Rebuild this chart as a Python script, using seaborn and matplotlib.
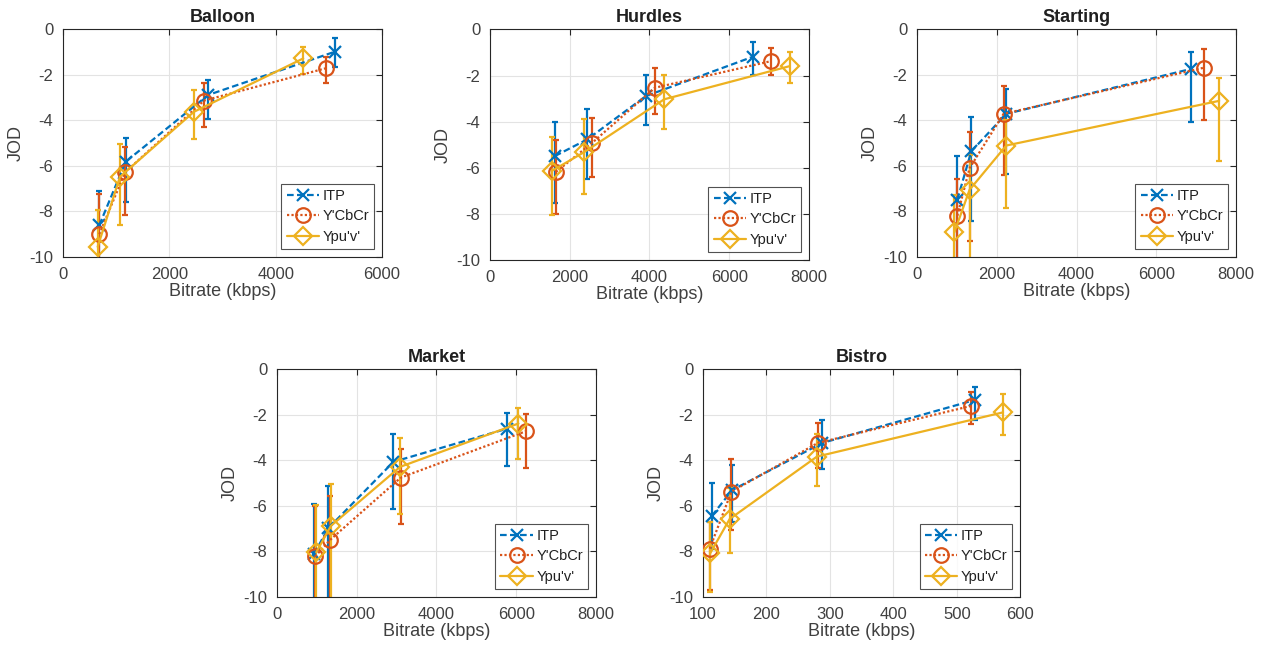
import numpy as np
import pandas as pd
import seaborn as sns
import matplotlib
matplotlib.use("Agg")
import matplotlib.pyplot as plt

# Methods and scenes
methods = ["ITP", "Y'CbCr", "Ypu'v'"]
scenes = ["Balloon", "Hurdles", "Starting", "Market", "Bistro"]

# Bitrate (kbps) per scene, one list per method (ITP, Y'CbCr, Ypu'v')
balloon_rate = [[683, 1178, 2732, 5119], [683, 1165, 2650, 4944], [652, 1071, 2462, 4517]]
hurdles_rate = [[1629, 2439, 3910, 6600], [1654, 2548, 4135, 7060], [1546, 2364, 4369, 7519]]
starting_rate = [[1010, 1360, 2237, 6870], [1010, 1318, 2171, 7207], [935, 1318, 2237, 7576]]
market_rate = [[930, 1290, 2923, 5780], [960, 1336, 3107, 6240], [985, 1353, 3090, 6055]]
bistro_rate = [[114, 146, 288, 528], [110.6, 144.7, 281, 522], [111.6, 142, 279.6, 572.7]]

# JOD values
balloon_jod = [[-8.6, -5.82, -2.89, -0.99], [-9.0, -6.29, -3.14, -1.72], [-9.55, -6.48, -3.63, -1.29]]
hurdles_jod = [[-5.49, -4.77, -2.89, -1.18], [-6.18, -4.94, -2.53, -1.37], [-6.14, -5.32, -3.03, -1.59]]
starting_jod = [[-7.49, -5.37, -3.72, -1.75], [-8.19, -6.1, -3.72, -1.69], [-8.92, -7.05, -5.11, -3.15]]
market_jod = [[-8.1, -6.98, -4.07, -2.61], [-8.22, -7.49, -4.76, -2.73], [-8.04, -6.88, -4.29, -2.39]]
bistro_jod = [[-6.44, -5.31, -3.24, -1.36], [-7.88, -5.38, -3.24, -1.62], [-8.07, -6.58, -3.84, -1.9]]

# Upper ends of the error bars
balloon_top = [[-7.09, -4.77, -2.24, -0.41], [-7.25, -5.16, -2.38, -1.21], [-7.94, -5.04, -2.68, -0.77]]
hurdles_top = [[-4.0, -3.47, -1.99, -0.55], [-4.81, -3.83, -1.66, -0.79], [-4.67, -3.87, -1.98, -0.97]]
starting_top = [[-5.56, -3.87, -2.64, -1.02], [-6.57, -4.5, -2.5, -0.88], [-7.27, -5.52, -3.99, -2.16]]
market_top = [[-5.91, -5.15, -2.86, -1.93], [-5.99, -5.56, -3.52, -1.99], [-5.97, -5.04, -3.03, -1.69]]
bistro_top = [[-4.98, -4.22, -2.25, -0.77], [-6.7, -3.96, -2.36, -1.02], [-6.69, -5.23, -2.85, -1.1]]

# Lower ends of the error bars
balloon_bot = [[-10.2, -7.57, -3.95, -1.65], [-10.7, -8.16, -4.28, -2.35], [-11.2, -8.6, -4.84, -1.97]]
hurdles_bot = [[-7.51, -6.47, -4.16, -1.99], [-7.99, -6.39, -3.66, -1.99], [-8.06, -7.15, -4.31, -2.34]]
starting_bot = [[-10.5, -8.44, -6.35, -4.06], [-10.8, -9.31, -6.39, -3.99], [-10.6, -10.5, -7.85, -5.81]]
market_bot = [[-10.5, -10.5, -6.15, -4.25], [-10.5, -10.5, -6.8, -4.32], [-10.5, -10.5, -6.35, -3.96]]
bistro_bot = [[-7.9, -6.69, -4.39, -2.25], [-9.68, -7.08, -4.36, -2.39], [-9.78, -8.07, -5.11, -2.89]]

rates = [balloon_rate, hurdles_rate, starting_rate, market_rate, bistro_rate]
jods = [balloon_jod, hurdles_jod, starting_jod, market_jod, bistro_jod]
tops = [balloon_top, hurdles_top, starting_top, market_top, bistro_top]
bots = [balloon_bot, hurdles_bot, starting_bot, market_bot, bistro_bot]

x_limits = [(0, 6000), (0, 8000), (0, 8000), (0, 8000), (100, 600)]
x_steps = [2000, 2000, 2000, 2000, 100]

colors = {"ITP": "#0072BD", "Y'CbCr": "#D95319", "Ypu'v'": "#EDB120"}
markers = {"ITP": "x", "Y'CbCr": "o", "Ypu'v'": "D"}
dashes = {"ITP": (3, 1.5), "Y'CbCr": (1, 1), "Ypu'v'": ""}
marker_sizes = {"ITP": 9, "Y'CbCr": 10.5, "Ypu'v'": 9.5}

# Axes positions in figure fractions
positions = [
    [0.0497, 0.6088, 0.2516, 0.347],
    [0.3864, 0.6042, 0.2516, 0.351],
    [0.7232, 0.6088, 0.2516, 0.347],
    [0.2184, 0.0913, 0.2516, 0.347],
    [0.5544, 0.0913, 0.2503, 0.347],
]

sns.set_style("white")
plt.rcParams["font.family"] = ["Liberation Sans", "DejaVu Sans"]
plt.rcParams["axes.unicode_minus"] = False

fig = plt.figure(figsize=(12.68, 6.57), dpi=100)
text_color = "#404040"

for i, scene in enumerate(scenes):
    ax = fig.add_axes(positions[i])
    rows = []
    for m, method in enumerate(methods):
        for r, j, t, b in zip(rates[i][m], jods[i][m], tops[i][m], bots[i][m]):
            rows.append({"Method": method, "Bitrate": r, "JOD": j, "top": t, "bot": b})
    df = pd.DataFrame(rows)

    for method in methods:
        d = df[df["Method"] == method]
        ax.errorbar(d["Bitrate"], d["JOD"],
                    yerr=[d["JOD"] - d["bot"], d["top"] - d["JOD"]],
                    fmt="none", ecolor=colors[method], elinewidth=1.6,
                    capsize=2.5, capthick=1.6, zorder=2)
        sns.lineplot(data=d, x="Bitrate", y="JOD", ax=ax, color=colors[method],
                     marker=markers[method], markersize=marker_sizes[method],
                     markerfacecolor="none", markeredgecolor=colors[method],
                     markeredgewidth=1.6, linewidth=1.6, dashes=dashes[method],
                     label=method, zorder=3, estimator=None, sort=False)

    ax.set_xlim(*x_limits[i])
    ax.set_ylim(-10, 0)
    ax.set_xticks(np.arange(x_limits[i][0], x_limits[i][1] + 1, x_steps[i]))
    ax.set_yticks(np.arange(-10, 1, 2))
    ax.grid(True, color="#e3e3e3", linewidth=0.8)
    ax.set_axisbelow(True)
    for sp in ax.spines.values():
        sp.set_color("#262626")
        sp.set_linewidth(0.8)
    ax.tick_params(direction="in", length=4, width=0.8, color="#262626",
                   labelsize=12, labelcolor=text_color, top=True, right=True)
    ax.tick_params(axis="x", pad=7)
    ax.tick_params(axis="y", pad=7)
    ax.set_xlabel("Bitrate (kbps)", fontsize=13, color=text_color, labelpad=1)
    ax.set_ylabel("JOD", fontsize=13, color=text_color, labelpad=3)
    ax.set_title(scene, fontsize=13, fontweight="bold", color="#202020", pad=5)

    leg = ax.legend(loc="lower right", fontsize=10.5, frameon=True, fancybox=False,
                    handlelength=2.2, borderpad=0.35, labelspacing=0.45,
                    handletextpad=0.25, borderaxespad=0.55)
    leg.get_frame().set_edgecolor("#262626")
    leg.get_frame().set_linewidth(0.8)
    for txt in leg.get_texts():
        txt.set_color("#202020")

fig.savefig("out.png", dpi=100)
